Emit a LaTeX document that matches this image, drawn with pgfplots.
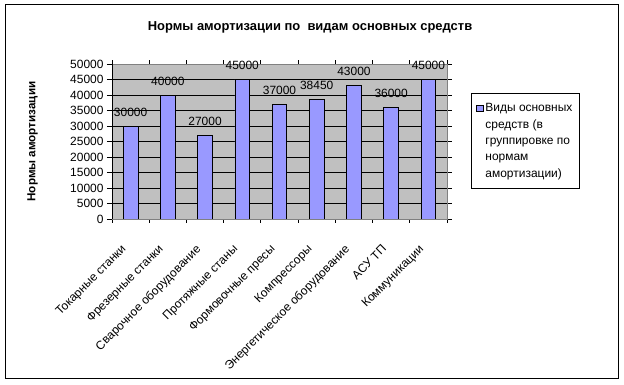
\documentclass[border=0pt]{standalone}
\usepackage{pgfplots}
\pgfplotsset{compat=1.18}
\usepackage{fontspec}
\setmainfont{Liberation Sans}
\definecolor{barblue}{RGB}{153,153,255}
\definecolor{plotgray}{RGB}{192,192,192}
\definecolor{bordergray}{RGB}{128,128,128}
\pgfplotstableread{
x y
0 30000
1 40000
2 27000
3 45000
4 37000
5 38450
6 43000
7 36000
8 45000
}\datatable
\begin{document}
\begin{tikzpicture}
\path[use as bounding box] (0bp,0bp) rectangle (624bp,385bp);
\draw[black, line width=1bp] (5bp,6bp) rectangle (618bp,380bp);
\node[font=\bfseries\fontsize{13}{15}\selectfont] at (310bp,358bp) {Нормы амортизации по\ \ видам основных средств};
\begin{axis}[
  at={(112bp,166bp)}, anchor=south west,
  scale only axis, width=335bp, height=155bp,
  xmin=-0.5, xmax=8.5, ymin=0, ymax=50000,
  ytick distance=5000,
  scaled y ticks=false,
  axis background/.style={fill=plotgray},
  axis line style={draw=bordergray, line width=0.8bp},
  ymajorgrids, grid style={black, line width=0.8bp},
  tick align=outside, major tick length=5bp, minor tick length=4bp,
  tick style={black, line width=0.8bp},
  xtick={0,...,8},
  minor xtick={-0.5,0.5,...,8.5},
  major x tick style={draw=none},
  xticklabels={Токарные станки, Фрезерные станки, Сварочное оборудование, Протяжные станы, Формовочные пресы, Компрессоры, Энергетическое оборудование, АСУ ТП, Коммуникации},
  x tick label style={xshift=-10bp, yshift=-15bp, rotate=45, anchor=north east, font=\fontsize{12}{14}\selectfont},
  y tick label style={font=\fontsize{12}{14}\selectfont},
  /pgf/number format/assume math mode=true,
  /pgf/number format/fixed,
  /pgf/number format/1000 sep={},
  ylabel={Нормы амортизации},
  ylabel style={at={(axis description cs:-0.237,0.5)}, anchor=center, font=\bfseries\fontsize{11.7}{13}\selectfont},
  ybar, bar width=14.7bp,
  nodes near coords,
  every node near coord/.append style={anchor=center, yshift=14bp, font=\fontsize{12}{14}\selectfont, text=black},
  legend style={at={(axis description cs:1.0716,0.8129)}, anchor=north west, draw=black, line width=0.8bp,
    font=\fontsize{12}{16.5}\selectfont, inner xsep=5bp, inner ysep=8bp, nodes={align=left}},
  legend cell align=left,
  legend image code/.code={\draw[fill=barblue, draw=black, line width=0.6bp] (0bp,29.5bp) rectangle (6.5bp,36bp);},
]
\addplot[fill=barblue, draw=black, line width=0.8bp] table[x=x, y=y] {\datatable};
\addlegendentry{Виды основных\\средств (в\\группировке по\\нормам\\амортизации)}
\draw[black, line width=0.8bp] (rel axis cs:0,0) -- (rel axis cs:0,1);
\draw[black, line width=0.8bp] (rel axis cs:0,0) -- (rel axis cs:1,0);
\end{axis}
\end{tikzpicture}
\end{document}
